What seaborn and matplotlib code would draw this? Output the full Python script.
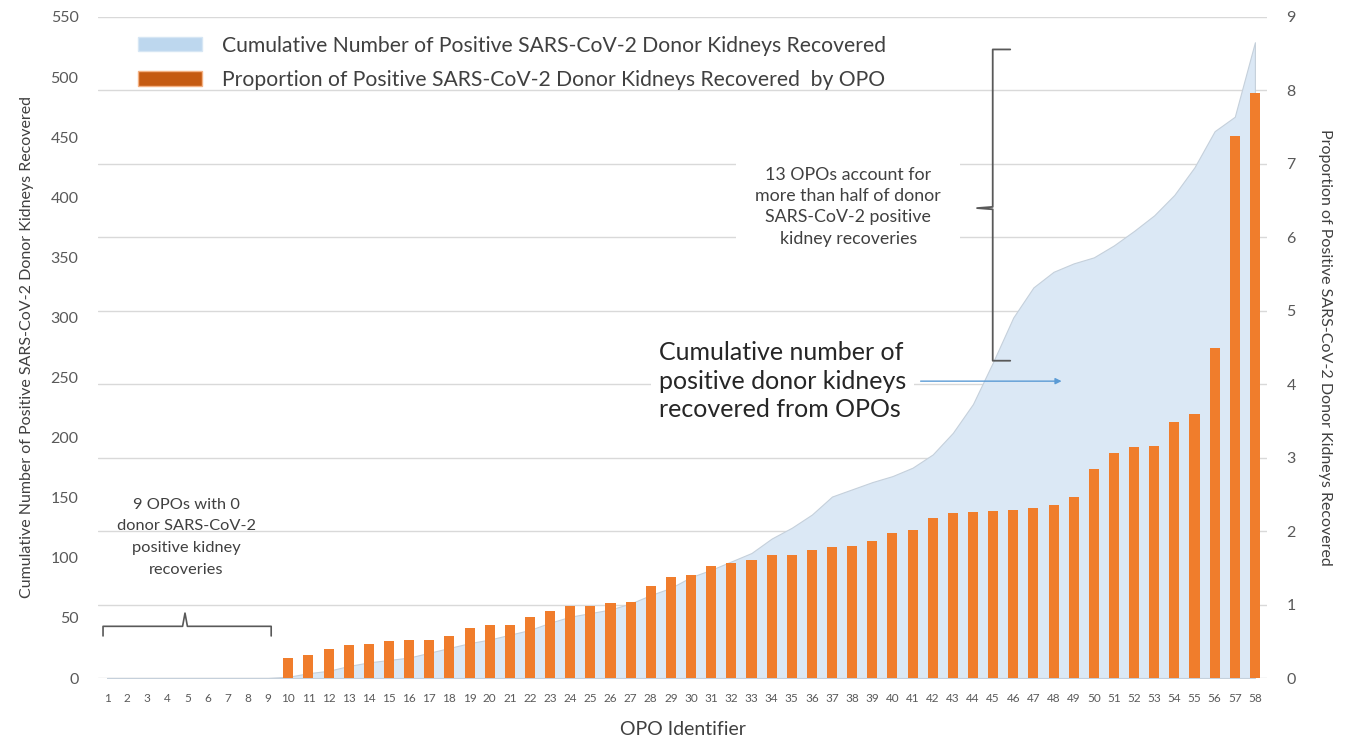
import numpy as np
import matplotlib
matplotlib.use("Agg")
import matplotlib.pyplot as plt
import seaborn as sns
from matplotlib.patches import Patch

# OPO identifiers 1..58
opo = list(range(1, 59))

# cumulative number of positive donor kidneys recovered (left axis)
cumulative = [0, 0, 0, 0, 0, 0, 0, 0, 0,
              1, 4, 6, 10, 13, 15, 17, 21, 25, 29,
              32, 36, 40, 46, 51, 54, 57, 62, 69, 75,
              84, 90, 97, 104, 116, 125, 136, 151, 157, 163,
              168, 175, 186, 204, 228, 263, 300, 325, 338, 345,
              350, 360, 372, 385, 402, 425, 455, 467, 529]

# proportion (%) of positive donor kidneys recovered by OPO (right axis)
proportion = [0, 0, 0, 0, 0, 0, 0, 0, 0,
              0.27, 0.31, 0.39, 0.45, 0.46, 0.50, 0.52, 0.52, 0.57, 0.68,
              0.72, 0.72, 0.83, 0.91, 0.98, 0.98, 1.02, 1.04, 1.25, 1.38,
              1.40, 1.52, 1.57, 1.60, 1.67, 1.67, 1.74, 1.79, 1.80, 1.87,
              1.98, 2.01, 2.18, 2.24, 2.26, 2.28, 2.29, 2.31, 2.35, 2.46,
              2.85, 3.07, 3.15, 3.16, 3.49, 3.60, 4.49, 7.38, 7.97]

left_ticks = list(range(0, 551, 50))
right_ticks = list(range(0, 10))

sns.set_style("white")
plt.rcParams['font.family'] = ['Lato', 'DejaVu Sans']

txt_grey = "#595959"
area_col = "#DBE8F5"
bar_col = "#F07D2C"

fig = plt.figure(figsize=(13.52, 7.43), dpi=100)
ax = fig.add_axes([98 / 1352, 1 - 678 / 743, (1267 - 98) / 1352, (678 - 17) / 743])

# gridlines follow the right axis ticks, drawn behind the area
for k in right_ticks:
    ax.axhline(550 * k / 9, color="#D9D9D9", lw=1.0, zorder=0)

ax.fill_between(opo, cumulative, 0, color=area_col, edgecolor="#C5D0DB", lw=0.8, zorder=1)
ax.set_xlim(0.55, 58.6)
ax.set_ylim(0, 550)
ax.set_yticks(left_ticks)
ax.set_ylabel("Cumulative Number of Positive SARS-CoV-2 Donor Kidneys Recovered",
              fontsize=11.5, color="#404040", labelpad=12)
ax.set_xlabel("OPO Identifier", fontsize=14, color="#404040", labelpad=12)

ax2 = ax.twinx()
sns.barplot(x=opo, y=proportion, ax=ax2, native_scale=True, width=0.5,
            color=bar_col, saturation=1, edgecolor="none")
ax2.set_ylim(0, 9)
ax2.set_yticks(right_ticks)
ax2.set_xlim(0.55, 58.6)
ax2.set_xticks(opo)
ax.set_xticks(opo)
ax.set_xticklabels([str(i) for i in opo])
ax2.set_ylabel("Proportion of Positive SARS-CoV-2 Donor Kidneys Recovered",
               fontsize=11.5, color="#404040", rotation=270, labelpad=26)

for a in (ax, ax2):
    for s in a.spines.values():
        s.set_visible(False)
    a.grid(False)
ax.tick_params(axis="y", length=0, pad=14, labelsize=11.5, labelcolor=txt_grey)
ax.tick_params(axis="x", length=0, pad=11, labelsize=8.5, labelcolor=txt_grey)
ax2.tick_params(axis="y", length=0, pad=14, labelsize=11.5, labelcolor=txt_grey)
ax2.tick_params(axis="x", length=0, labelbottom=False)

# legend
handles = [Patch(facecolor="#BDD7EE", edgecolor="#D6E6F4"),
           Patch(facecolor="#C55A11", edgecolor="#F4B183")]
labels = ["Cumulative Number of Positive SARS-CoV-2 Donor Kidneys Recovered",
          "Proportion of Positive SARS-CoV-2 Donor Kidneys Recovered  by OPO"]
fig.legend(handles, labels, loc="upper left", bbox_to_anchor=(127 / 1352, 1 - 25 / 743),
           frameon=False, fontsize=15.2, handlelength=3.05, handleheight=0.65,
           handletextpad=0.95, labelspacing=0.68, borderpad=0, labelcolor="#404040")

# annotation: zero OPOs
ax.text(4.95, 117, "9 OPOs with 0\ndonor SARS-CoV-2\npositive kidney\nrecoveries",
        ha="center", va="center", fontsize=11.8, color="#404040", linespacing=1.72)
bx = [0.8, 0.8, 4.75, 4.87, 4.99, 9.15, 9.15]
by = [35, 43, 43, 54, 43, 43, 35]
ax.plot(bx, by, color="#595959", lw=1.2, zorder=5)

# annotation: 13 OPOs brace
bx2 = [45.85, 44.98, 44.98, 44.2, 44.98, 44.98, 45.85]
by2 = [264, 264, 390, 391, 392, 523, 523]
ax.plot(bx2, by2, color="#595959", lw=1.3, zorder=5)
ax.text(37.8, 392, "13 OPOs account for\nmore than half of donor\nSARS-CoV-2 positive\nkidney recoveries",
        ha="center", va="center", fontsize=12.8, color="#404040", linespacing=1.4,
        bbox=dict(facecolor="white", edgecolor="none", pad=14), zorder=4)

# annotation: cumulative area
ax.text(28.4, 247, "Cumulative number of\npositive donor kidneys\nrecovered from OPOs",
        ha="left", va="center", fontsize=18, color="#262626", linespacing=1.3,
        bbox=dict(facecolor="white", edgecolor="none", pad=6), zorder=4)
ax.annotate("", xy=(48.4, 247), xytext=(41.4, 247),
            arrowprops=dict(arrowstyle="-|>", color="#5B9BD5", lw=1.0,
                            mutation_scale=9, shrinkA=0, shrinkB=0), zorder=5)

fig.savefig("out.png", dpi=100)
